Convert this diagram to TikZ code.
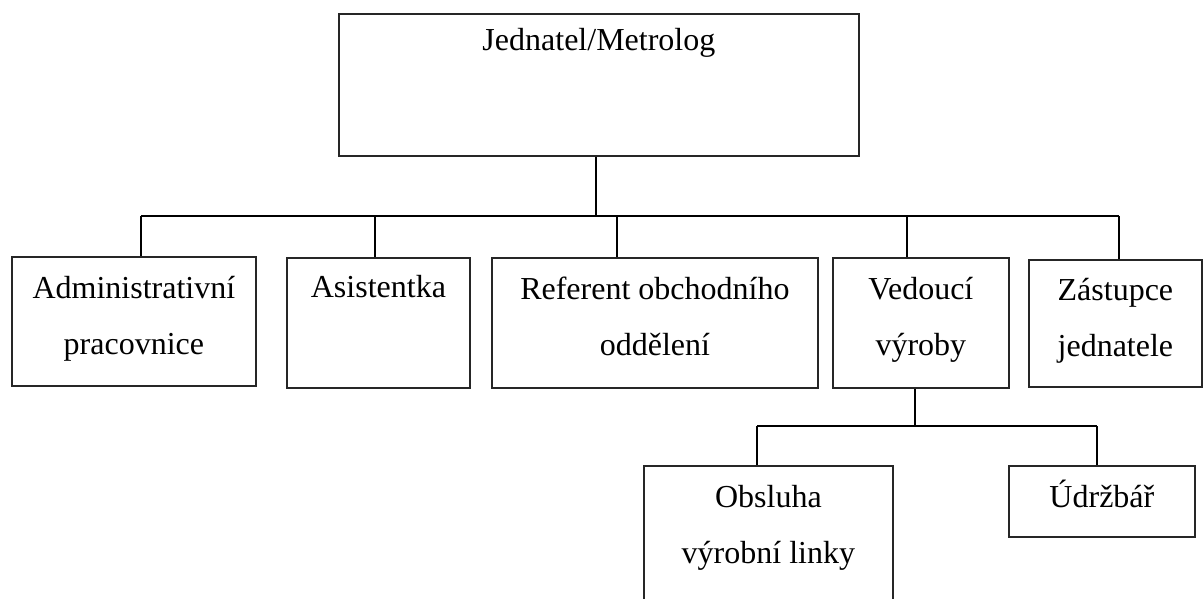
\documentclass[tikz,border=0pt]{standalone}
\usepackage{fontspec}
\setmainfont{Liberation Serif}
\begin{document}
\begin{tikzpicture}[x=1pt,y=-1pt,
  box/.style={draw=black!85, line width=1.8pt, inner sep=0pt, anchor=north west},
  lbl/.style={anchor=base, align=center, inner sep=0pt, font={\fontsize{32}{56}\selectfont}},
  conn/.style={draw=black, line width=2.2pt}]
\clip (0,0) rectangle (1203,599);
\fill[white] (0,0) rectangle (1203,599);
% boxes
\node[box, minimum width=520pt, minimum height=142pt] (top) at (338,13) {};
\node[box, minimum width=244pt, minimum height=129pt] (admin) at (11,256) {};
\node[box, minimum width=183pt, minimum height=130pt] (asist) at (286,257) {};
\node[box, minimum width=326pt, minimum height=130pt] (ref) at (491,257) {};
\node[box, minimum width=176pt, minimum height=130pt] (ved) at (832,257) {};
\node[box, minimum width=173pt, minimum height=127pt] (zast) at (1028,259) {};
\node[box, minimum width=249pt, minimum height=160pt] (obs) at (643,465) {};
\node[box, minimum width=186pt, minimum height=71pt] (udr) at (1008,465) {};
% labels (base anchor = baseline of the last line)
\node[lbl] (ttop) at ([yshift=-38pt]top.north) {Jednatel/Metrolog};
\node[lbl] (tadmin) at ([yshift=-98pt]admin.north) {Administrativní\\pracovnice};
\node[lbl] (tasist) at ([yshift=-40pt]asist.north) {Asistentka};
\node[lbl] (tref) at ([yshift=-98pt]ref.north) {Referent obchodního\\oddělení};
\node[lbl] (tved) at ([yshift=-98pt]ved.north) {Vedoucí\\výroby};
\node[lbl] (tzast) at ([yshift=-97pt]zast.north) {Zástupce\\jednatele};
\node[lbl] (tobs) at ([yshift=-98pt]obs.north) {Obsluha\\výrobní linky};
\node[lbl] (tudr) at ([yshift=-42pt]udr.north) {Údržbář};
% bus coordinates
\coordinate (busL) at (141,216);
\coordinate (busR) at (1119,216);
\coordinate (d2) at (375,216);
\coordinate (d3) at (617,216);
\coordinate (d4) at (907,216);
\coordinate (j) at (596,216);
\coordinate (v) at (915,426);
\coordinate (b2L) at (757,426);
\coordinate (b2R) at (1097,426);
% connectors
\draw[conn] (j |- top.south) -- (j);
\draw[conn] (busL) -- (busR);
\draw[conn] (busL) -- (busL |- admin.north);
\draw[conn] (d2) -- (d2 |- asist.north);
\draw[conn] (d3) -- (d3 |- ref.north);
\draw[conn] (d4) -- (d4 |- ved.north);
\draw[conn] (busR) -- (busR |- zast.north);
\draw[conn] (v |- ved.south) -- (v);
\draw[conn] (b2L) -- (b2R);
\draw[conn] (b2L) -- (b2L |- obs.north);
\draw[conn] (b2R) -- (b2R |- udr.north);
\end{tikzpicture}
\end{document}
